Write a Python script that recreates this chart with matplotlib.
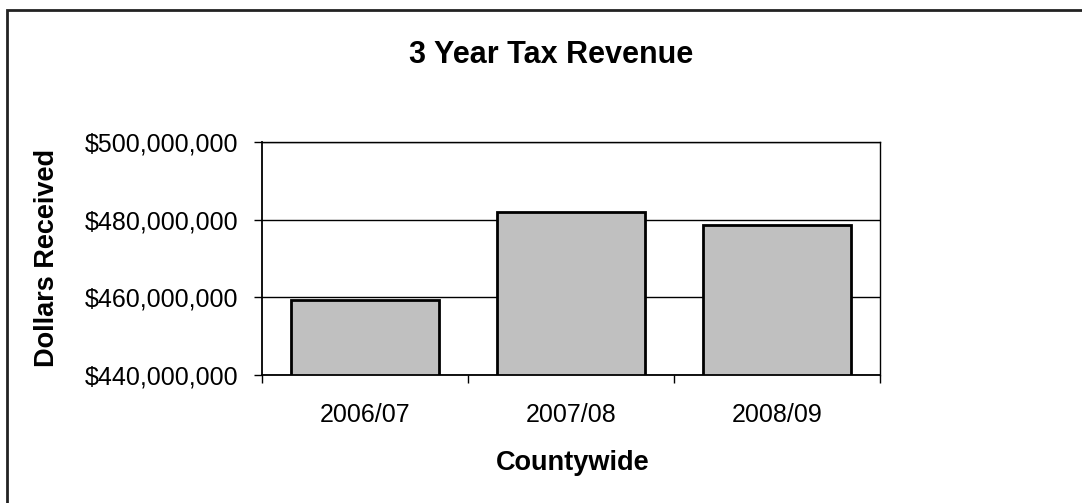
import matplotlib
matplotlib.use("Agg")
import matplotlib.pyplot as plt
from matplotlib.patches import Rectangle
from matplotlib.ticker import FuncFormatter, FixedLocator

plt.rcParams['font.family'] = ['Liberation Sans', 'DejaVu Sans']

categories = ["2006/07", "2007/08", "2008/09"]
revenue = [459_400_000, 482_000_000, 478_500_000]
y_ticks = [440_000_000, 460_000_000, 480_000_000, 500_000_000]

W, H = 1082, 503
fig = plt.figure(figsize=(W / 100, H / 100), dpi=100)
fig.patch.set_facecolor("white")

ax = fig.add_axes([262 / W, 1 - 375 / H, (880 - 262) / W, (375 - 142) / H])
x = list(range(len(categories)))
ax.bar(x, [v - y_ticks[0] for v in revenue], bottom=y_ticks[0], width=0.72,
       color="#C0C0C0", edgecolor="black", linewidth=2, zorder=3)

ax.set_xlim(-0.5, len(categories) - 0.5)
ax.set_ylim(y_ticks[0], y_ticks[-1])
ax.set_yticks(y_ticks)
ax.yaxis.set_major_formatter(FuncFormatter(lambda v, p: "${:,.0f}".format(v)))
ax.yaxis.grid(True, color="black", linewidth=1, zorder=1)
ax.set_xticks(x)
ax.set_xticklabels(categories)
ax.xaxis.set_minor_locator(FixedLocator([i - 0.5 for i in range(len(categories) + 1)]))
ax.tick_params(axis="x", which="major", length=0, pad=20, labelsize=18)
ax.tick_params(axis="x", which="minor", length=6, width=1, color="black", direction="out")
ax.tick_params(axis="y", which="major", length=6, width=1, pad=11, labelsize=18)
for s in ax.spines.values():
    s.set_linewidth(1)
    s.set_color("black")
ax.spines["left"].set_linewidth(1.3)
ax.spines["bottom"].set_linewidth(1.3)

fig.text(551 / W, 1 - 55 / H, "3 Year Tax Revenue", ha="center", va="center",
         fontsize=22, fontweight="bold")
fig.text(573 / W, 1 - 463 / H, "Countywide", ha="center", va="center",
         fontsize=19.5, fontweight="bold")
fig.text(47 / W, 1 - 258 / H, "Dollars Received", ha="center", va="center",
         rotation=90, fontsize=19.5, fontweight="bold")

fig.patches.append(Rectangle((7 / W, -0.2), 1.2, 1.2 - 10 / H, transform=fig.transFigure,
                             fill=False, edgecolor="#222222", linewidth=2))

fig.savefig("out.png", dpi=100, facecolor="white")
